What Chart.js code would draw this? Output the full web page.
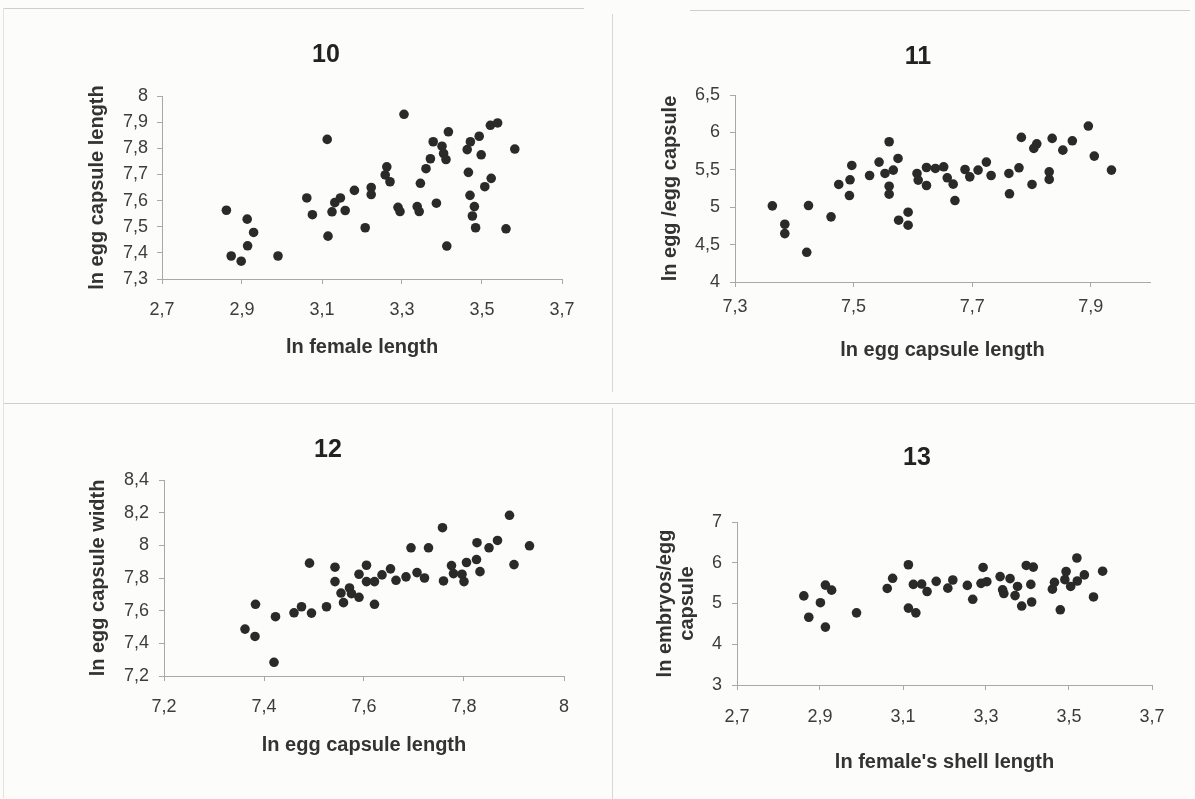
<!DOCTYPE html>
<html>
<head>
<meta charset="utf-8">
<script src="https://cdn.jsdelivr.net/npm/chart.js@4.4.1/dist/chart.umd.min.js"></script>
<style>
  html, body { margin: 0; padding: 0; background: #fcfcfa; }
  body { width: 1195px; height: 799px; position: relative; overflow: hidden; }
  canvas { position: absolute; }
  .rule { position: absolute; background: #cfcfcf; }
</style>
</head>
<body>
<!-- faint scan borders between the four figures -->
<div class="rule" style="left:4px;top:8px;width:580px;height:1px"></div>
<div class="rule" style="left:690px;top:10px;width:500px;height:1px"></div>
<div class="rule" style="left:3px;top:8px;width:1px;height:790px;background:#e2e2e2"></div>
<div class="rule" style="left:612px;top:14px;width:1px;height:378px;background:#d8d8d8"></div>
<div class="rule" style="left:4px;top:403px;width:1191px;height:1px"></div>
<div class="rule" style="left:612px;top:408px;width:1px;height:391px;background:#d8d8d8"></div>

<canvas id="c10"></canvas>
<canvas id="c11"></canvas>
<canvas id="c12"></canvas>
<canvas id="c13"></canvas>

<script>
// fig 10: ln female length vs ln egg capsule length
const p10X = [2.861, 2.873, 2.898, 2.913, 2.914, 2.929, 2.990, 3.062, 3.076, 3.113, 3.115, 3.125, 3.132,
  3.146, 3.158, 3.181, 3.208, 3.223, 3.223, 3.258, 3.262, 3.270, 3.290, 3.295, 3.305, 3.338, 3.343,
  3.346, 3.360, 3.371, 3.378, 3.386, 3.400, 3.404, 3.410, 3.416, 3.412, 3.463, 3.471, 3.466, 3.470,
  3.481, 3.476, 3.484, 3.493, 3.498, 3.507, 3.523, 3.521, 3.539, 3.560, 3.582];
const p10Y = [7.563, 7.388, 7.368, 7.529, 7.427, 7.478, 7.388, 7.610, 7.546, 7.834, 7.464, 7.557, 7.592,
  7.610, 7.562, 7.639, 7.496, 7.650, 7.623, 7.698, 7.729, 7.672, 7.574, 7.558, 7.930, 7.577, 7.558,
  7.666, 7.722, 7.760, 7.825, 7.590, 7.808, 7.780, 7.757, 7.863, 7.426, 7.795, 7.825, 7.708, 7.620,
  7.577, 7.541, 7.496, 7.846, 7.775, 7.653, 7.685, 7.888, 7.897, 7.492, 7.797];
const p10XTicks = [2.7, 2.9, 3.1, 3.3, 3.5, 3.7];
const p10YTicks = [7.3, 7.4, 7.5, 7.6, 7.7, 7.8, 7.9, 8];

// fig 11: ln egg capsule length vs ln egg / egg capsule
const p11X = [7.363, 7.384, 7.384, 7.421, 7.424, 7.462, 7.475, 7.494, 7.493, 7.497, 7.527, 7.543, 7.553,
  7.560, 7.560, 7.560, 7.567, 7.575, 7.576, 7.592, 7.592, 7.607, 7.609, 7.623, 7.623, 7.638, 7.652,
  7.658, 7.668, 7.671, 7.688, 7.696, 7.710, 7.724, 7.732, 7.762, 7.763, 7.779, 7.783, 7.801, 7.804,
  7.809, 7.830, 7.830, 7.835, 7.853, 7.869, 7.896, 7.906, 7.935];
const p11Y = [5.018, 4.772, 4.647, 4.397, 5.022, 4.871, 5.304, 5.366, 5.156, 5.558, 5.424, 5.603, 5.451,
  5.875, 5.281, 5.174, 5.496, 5.652, 4.826, 4.933, 4.759, 5.451, 5.362, 5.290, 5.531, 5.518, 5.540,
  5.393, 5.308, 5.089, 5.504, 5.406, 5.496, 5.603, 5.424, 5.451, 5.179, 5.527, 5.933, 5.304, 5.786,
  5.848, 5.473, 5.371, 5.920, 5.763, 5.888, 6.085, 5.683, 5.496];
const p11XTicks = [7.3, 7.5, 7.7, 7.9];
const p11YTicks = [4, 4.5, 5, 5.5, 6, 6.5];

// fig 12: ln egg capsule length vs ln egg capsule width
const p12X = [7.362, 7.383, 7.382, 7.420, 7.423, 7.460, 7.475, 7.491, 7.495, 7.525, 7.542, 7.542, 7.554,
  7.559, 7.571, 7.575, 7.590, 7.590, 7.605, 7.605, 7.621, 7.621, 7.636, 7.653, 7.664, 7.684, 7.694,
  7.706, 7.721, 7.729, 7.757, 7.759, 7.775, 7.779, 7.796, 7.800, 7.805, 7.825, 7.826, 7.832, 7.850,
  7.867, 7.891, 7.900, 7.931];
const p12Y = [7.487, 7.639, 7.442, 7.284, 7.563, 7.587, 7.624, 7.891, 7.585, 7.624, 7.866, 7.778, 7.708,
  7.649, 7.739, 7.704, 7.823, 7.682, 7.878, 7.778, 7.778, 7.639, 7.819, 7.856, 7.786, 7.807, 7.985,
  7.833, 7.800, 7.985, 8.108, 7.782, 7.876, 7.827, 7.823, 7.778, 7.895, 7.913, 8.016, 7.839, 7.985,
  8.030, 8.184, 7.882, 7.997];
const p12XTicks = [7.2, 7.4, 7.6, 7.8, 8];
const p12YTicks = [7.2, 7.4, 7.6, 7.8, 8, 8.2, 8.4];

// fig 13: ln female's shell length vs ln embryos / egg capsule
const p13X = [2.861, 2.873, 2.901, 2.913, 2.913, 2.928, 2.988, 3.062, 3.075, 3.113, 3.113, 3.131, 3.125,
  3.145, 3.158, 3.180, 3.208, 3.220, 3.255, 3.268, 3.288, 3.293, 3.302, 3.334, 3.340, 3.343, 3.358,
  3.376, 3.370, 3.386, 3.397, 3.414, 3.408, 3.410, 3.460, 3.465, 3.479, 3.490, 3.493, 3.504, 3.519,
  3.520, 3.537, 3.559, 3.581];
const p13Y = [5.186, 4.663, 5.020, 5.452, 4.421, 5.328, 4.771, 5.369, 5.618, 5.951, 4.887, 4.771, 5.469,
  5.477, 5.294, 5.544, 5.377, 5.577, 5.444, 5.103, 5.494, 5.884, 5.535, 5.660, 5.336, 5.244, 5.610,
  5.419, 5.194, 4.937, 5.934, 5.893, 5.469, 5.037, 5.352, 5.519, 4.845, 5.585, 5.785, 5.419, 6.117,
  5.552, 5.702, 5.161, 5.793];
const p13XTicks = [2.7, 2.9, 3.1, 3.3, 3.5, 3.7];
const p13YTicks = [3, 4, 5, 6, 7];

const FONT = "'Liberation Sans', Arial, sans-serif";
const fmt = v => String(parseFloat(v.toFixed(2))).replace('.', ',');

// draws the figure number above each plot
const panelNo = {
  id: 'panelNo',
  afterDraw(chart, args, opts) {
    const ctx = chart.ctx;
    ctx.save();
    ctx.font = 'bold 25px ' + FONT;
    ctx.fillStyle = '#222';
    ctx.textAlign = 'center';
    ctx.textBaseline = 'middle';
    ctx.fillText(opts.text, opts.x, opts.y);
    ctx.restore();
  }
};

function panel(id, xs, ys, xTicks, yTicks, xRange, yRange, labels, box, area, pos) {
  const cv = document.getElementById(id);
  cv.style.left = box.l + 'px';
  cv.style.top = box.t + 'px';
  cv.width = box.r - box.l;
  cv.height = box.b - box.t;

  const titleFont = { family: FONT, size: 20, weight: 'bold', lineHeight: 1.1 };
  const lh = 20 * 1.1;
  const tickFont = { family: FONT, size: 18 };
  const axisColor = '#a8a8a8';

  new Chart(cv, {
    type: 'scatter',
    data: {
      datasets: [{
        data: xs.map((x, i) => ({ x: x, y: ys[i] })),
        backgroundColor: '#2a2a2a',
        borderWidth: 0,
        pointRadius: 4.8,
        pointHoverRadius: 4.8
      }]
    },
    options: {
      responsive: false,
      animation: false,
      layout: {
        padding: { left: 0, top: area.t - box.t, right: box.r - area.r, bottom: 0 }
      },
      plugins: {
        legend: { display: false },
        tooltip: { enabled: false },
        panelNo: { text: labels.num, x: pos.numX - box.l, y: pos.numY - box.t }
      },
      scales: {
        x: {
          type: 'linear',
          min: xRange[0],
          max: xRange[1],
          afterBuildTicks: s => { s.ticks = xTicks.map(v => ({ value: v })); },
          afterFit: s => { s.height = box.b - area.b; },
          grid: { drawOnChartArea: false, drawTicks: true, tickLength: 5, color: axisColor },
          border: { display: true, color: axisColor },
          ticks: {
            font: tickFont, color: '#3c3c3c', padding: pos.xPad, maxRotation: 0,
            callback: v => fmt(v)
          },
          title: {
            display: true, text: labels.x, font: titleFont, color: '#333',
            padding: { top: 0, bottom: box.b - pos.xTitleY - lh / 2 }
          }
        },
        y: {
          type: 'linear',
          min: yRange[0],
          max: yRange[1],
          afterBuildTicks: s => { s.ticks = yTicks.map(v => ({ value: v })); },
          afterFit: s => { s.width = area.l - box.l; },
          grid: { drawOnChartArea: false, drawTicks: true, tickLength: 5, color: axisColor },
          border: { display: true, color: axisColor },
          ticks: {
            font: tickFont, color: '#3c3c3c', padding: pos.yPad,
            callback: v => fmt(v)
          },
          title: {
            display: true, text: labels.y, font: titleFont, color: '#333',
            padding: { top: pos.yTitleX - box.l - lh / 2, bottom: 0 }
          }
        }
      }
    },
    plugins: [panelNo]
  });
}

panel('c10', p10X, p10Y, p10XTicks, p10YTicks, [2.7, 3.7], [7.3, 8],
  { num: '10', x: 'ln female length', y: 'ln egg capsule length' },
  { l: 20, t: 20, r: 600, b: 390 }, { l: 162, t: 96, r: 562, b: 279 },
  { numX: 326, numY: 55, xTitleY: 347, yTitleX: 97, xPad: 15, yPad: 9 });

panel('c11', p11X, p11Y, p11XTicks, p11YTicks, [7.3, 8.0], [4, 6.5],
  { num: '11', x: 'ln egg capsule length', y: 'ln egg /egg capsule' },
  { l: 620, t: 20, r: 1190, b: 390 }, { l: 735, t: 95, r: 1150, b: 282 },
  { numX: 918, numY: 57, xTitleY: 350, yTitleX: 670, xPad: 9, yPad: 10 });

panel('c12', p12X, p12Y, p12XTicks, p12YTicks, [7.2, 8], [7.2, 8.4],
  { num: '12', x: 'ln egg capsule length', y: 'ln egg capsule width' },
  { l: 20, t: 415, r: 600, b: 790 }, { l: 164, t: 480, r: 564, b: 676 },
  { numX: 328, numY: 450, xTitleY: 745, yTitleX: 98, xPad: 15, yPad: 10 });

panel('c13', p13X, p13Y, p13XTicks, p13YTicks, [2.7, 3.7], [3, 7],
  { num: '13', x: "ln female's shell length", y: ['ln embryos/egg', 'capsule'] },
  { l: 620, t: 415, r: 1190, b: 790 }, { l: 737, t: 522, r: 1152, b: 685 },
  { numX: 917, numY: 458, xTitleY: 762, yTitleX: 665, xPad: 16, yPad: 10 });
</script>
</body>
</html>
